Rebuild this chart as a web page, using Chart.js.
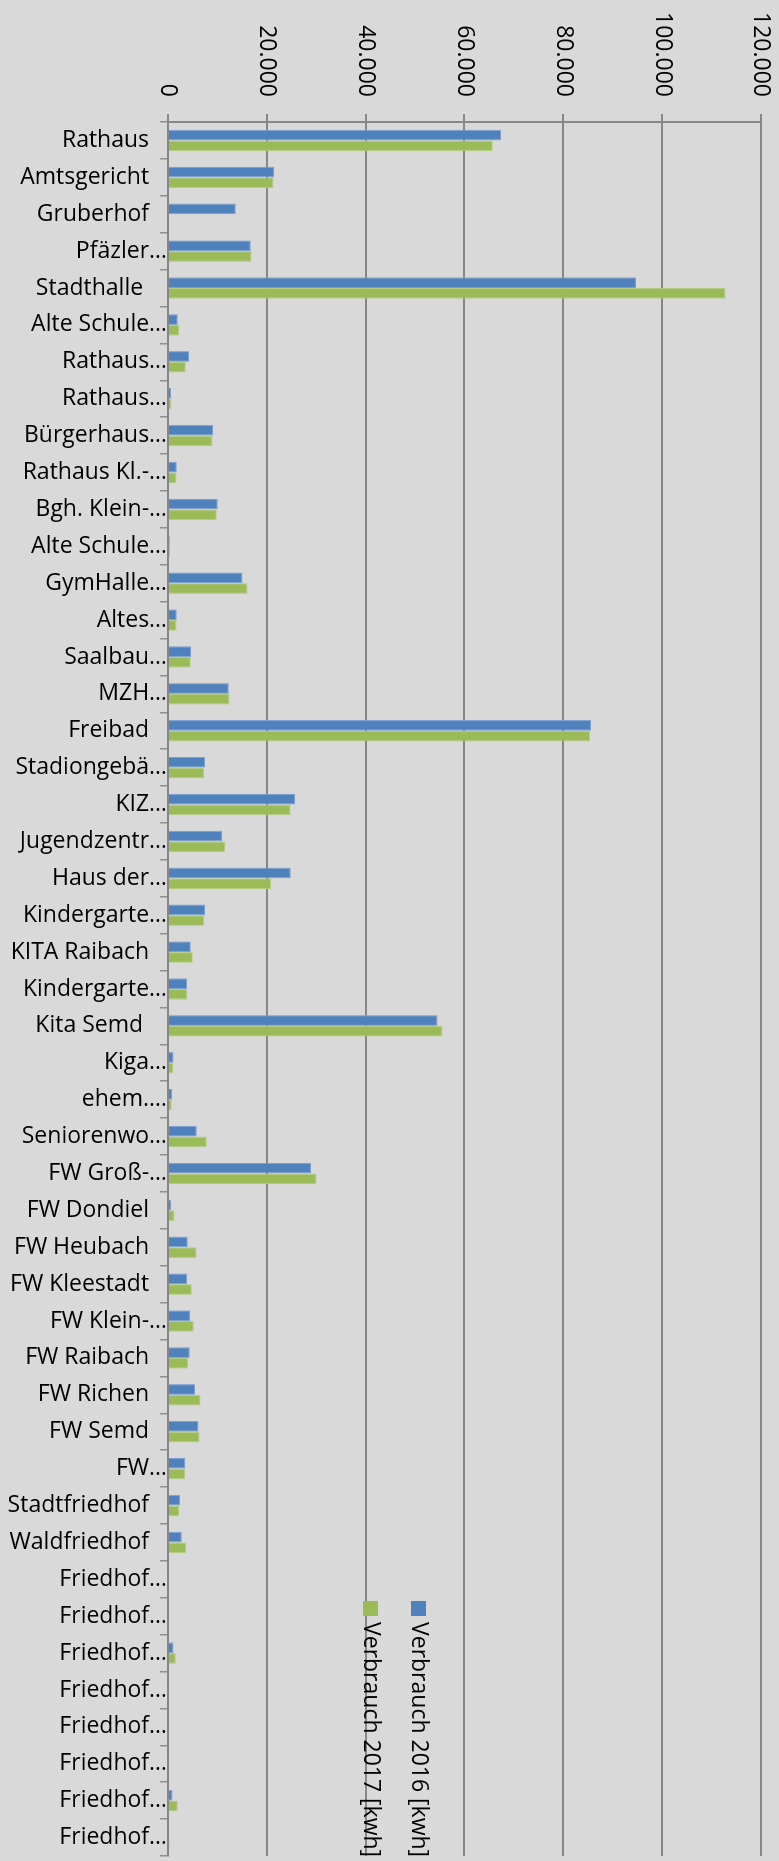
<!DOCTYPE html>
<html>
<head>
<meta charset="utf-8">
<script src="https://cdn.jsdelivr.net/npm/chart.js@4/dist/chart.umd.min.js"></script>
<style>
html, body { margin: 0; padding: 0; background: #d9d9d9; }
#page { position: relative; width: 779px; height: 1861px; overflow: hidden; background: #d9d9d9; }
/* the Excel chart is a column chart turned a quarter clockwise */
#turn { position: absolute; left: 0; top: 0; width: 1861px; height: 779px;
        transform-origin: 0 0; transform: translate(779px, 0) rotate(90deg); }
</style>
</head>
<body>
<div id="page"><div id="turn"><canvas id="verbrauch" width="1861" height="779"></canvas></div></div>
<script>
// trailing blanks keep the un-shortened names away from the axis, as in Excel
var categories = [
  'Rathaus   ', 'Amtsgericht   ', 'Gruberhof   ', 'Pfäzler…', 'Stadthalle    ',
  'Alte Schule…', 'Rathaus…', 'Rathaus…', 'Bürgerhaus…', 'Rathaus Kl.-…',
  'Bgh. Klein-…', 'Alte Schule…', 'GymHalle…', 'Altes…', 'Saalbau…',
  'MZH…', 'Freibad   ', 'Stadiongebä…', 'KIZ…', 'Jugendzentr…',
  'Haus der…', 'Kindergarte…', 'KITA Raibach   ', 'Kindergarte…', 'Kita Semd    ',
  'Kiga…', 'ehem.…', 'Seniorenwo…', 'FW Groß-…', 'FW Dondiel   ',
  'FW Heubach   ', 'FW Kleestadt   ', 'FW Klein-…', 'FW Raibach   ', 'FW Richen   ',
  'FW Semd   ', 'FW…', 'Stadtfriedhof   ', 'Waldfriedhof   ', 'Friedhof…',
  'Friedhof…', 'Friedhof…', 'Friedhof…', 'Friedhof…', 'Friedhof…',
  'Friedhof…', 'Friedhof…'
];

var verbrauch2016 = [
  67400, 21500, 13700, 16750, 94700,
  1950, 4250, 600, 9100, 1750,
  10050, 350, 15100, 1750, 4650,
  12300, 85600, 7500, 25700, 11000,
  24850, 7500, 4600, 3850, 54550,
  1100, 850, 5800, 29000, 600,
  4000, 3900, 4500, 4400, 5450,
  6150, 3500, 2500, 2800, 0,
  0, 1100, 0, 0, 0,
  900, 0
];

var verbrauch2017 = [
  65700, 21350, 0, 16900, 112800,
  2250, 3600, 700, 9000, 1700,
  9850, 400, 16100, 1700, 4600,
  12450, 85400, 7300, 24800, 11600,
  20850, 7300, 5000, 3900, 55550,
  1000, 750, 7850, 30050, 1300,
  5750, 4800, 5200, 4050, 6600,
  6350, 3500, 2300, 3700, 0,
  200, 1550, 0, 0, 250,
  1950, 300
];

var seriesNames = ['Verbrauch 2016 [kwh]', 'Verbrauch 2017 [kwh]'];
var valueTicks = [0, 20000, 40000, 60000, 80000, 100000, 120000];

function tausender(v) {
  return String(v).replace(/\B(?=(\d{3})+(?!\d))/g, '.');
}

Chart.defaults.font.family = "'Open Sans', sans-serif";
Chart.defaults.font.size = 23;
Chart.defaults.color = '#000';

// legend sits over the plot near the bottom right, like in the sheet
var turnedLegend = {
  id: 'turnedLegend',
  afterDraw: function(chart) {
    var ctx = chart.ctx;
    ctx.save();
    ctx.font = "23px 'Open Sans', sans-serif";
    ctx.textBaseline = 'middle';
    chart.data.datasets.forEach(function(ds, i) {
      var y = 360.5 + i * 48;
      ctx.fillStyle = ds.backgroundColor;
      ctx.fillRect(1601, y - 7.5, 15, 15);
      ctx.fillStyle = '#000';
      ctx.fillText(ds.label, 1622, y);
    });
    ctx.restore();
  }
};

new Chart(document.getElementById('verbrauch'), {
  type: 'bar',
  data: {
    labels: categories,
    datasets: [{
      label: seriesNames[0],
      data: verbrauch2016,
      backgroundColor: '#4f81bd',
      borderColor: '#7a9fd0',
      borderWidth: 1
    }, {
      label: seriesNames[1],
      data: verbrauch2017,
      backgroundColor: '#9bbb59',
      borderColor: '#b3cc80',
      borderWidth: 1
    }]
  },
  options: {
    responsive: false,
    animation: false,
    devicePixelRatio: 1,
    categoryPercentage: 0.58,
    barPercentage: 1.0,
    layout: { padding: { top: 18, right: 5, left: 0, bottom: 0 } },
    plugins: {
      legend: { display: false },
      tooltip: { enabled: false }
    },
    scales: {
      x: {
        ticks: { autoSkip: false, minRotation: 90, maxRotation: 90, padding: -7 },
        grid: { drawOnChartArea: false, tickLength: 8, color: '#8f8f8f', lineWidth: 1.5 },
        border: { color: '#878787', width: 2 },
        afterFit: function(s) { s.height = 168; s.paddingLeft = 0; s.paddingRight = 0; }
      },
      y: {
        min: 0,
        max: 120000,
        afterBuildTicks: function(s) { s.ticks = valueTicks.map(function(v) { return { value: v }; }); },
        ticks: { padding: 17, callback: function(v) { return tausender(v); } },
        grid: { color: '#878787', lineWidth: 2, tickLength: 8 },
        border: { color: '#878787', width: 2 },
        afterFit: function(s) { s.width = 122; s.paddingTop = 0; s.paddingBottom = 0; }
      }
    }
  },
  plugins: [turnedLegend]
});
</script>
</body>
</html>
